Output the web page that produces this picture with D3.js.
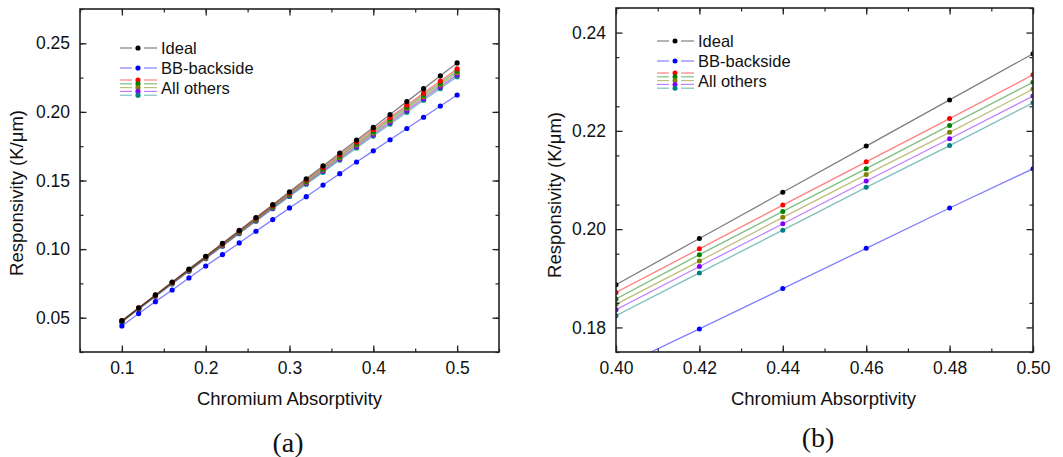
<!DOCTYPE html>
<html>
<head>
<meta charset="utf-8">
<script src="https://cdn.jsdelivr.net/npm/d3@7/dist/d3.min.js"></script>
<style>
  body { margin: 0; background: #fff; }
  svg { display: block; font-family: "Liberation Sans", Arial, sans-serif; }
</style>
</head>
<body>
<div id="chart"></div>
<script>
// absorptivity values (x)
const absorptivity = [0.10, 0.12, 0.14, 0.16, 0.18, 0.20, 0.22, 0.24, 0.26, 0.28, 0.30,
    0.32, 0.34, 0.36, 0.38, 0.40, 0.42, 0.44, 0.46, 0.48, 0.50]

// responsivity (K/um) per series
const ideal = [0.0478, 0.0572, 0.0666, 0.0760, 0.0854, 0.0948, 0.1042, 0.1136, 0.1230, 0.1324, 0.1418,
    0.1512, 0.1606, 0.1700, 0.1794, 0.1887, 0.1981, 0.2075, 0.2169, 0.2263, 0.2357]
const bbBackside = [0.0440, 0.0530, 0.0617, 0.0702, 0.0790, 0.0877, 0.0960, 0.1045, 0.1130, 0.1215, 0.1300,
    0.1382, 0.1467, 0.1550, 0.1635, 0.1716, 0.1797, 0.1879, 0.1961, 0.2043, 0.2123]
const otherRed = [0.0477, 0.0571, 0.0664, 0.0758, 0.0851, 0.0945, 0.1038, 0.1131, 0.1224, 0.1317, 0.1410,
    0.1503, 0.1595, 0.1688, 0.1780, 0.1871, 0.1960, 0.2049, 0.2137, 0.2225, 0.2314]
const otherGreen = [0.0475, 0.0568, 0.0661, 0.0754, 0.0847, 0.0940, 0.1033, 0.1125, 0.1218, 0.1310, 0.1402,
    0.1494, 0.1585, 0.1677, 0.1768, 0.1858, 0.1948, 0.2036, 0.2123, 0.2211, 0.2299]
const otherOlive = [0.0473, 0.0566, 0.0659, 0.0751, 0.0844, 0.0936, 0.1029, 0.1121, 0.1213, 0.1305, 0.1396,
    0.1487, 0.1577, 0.1668, 0.1758, 0.1847, 0.1935, 0.2024, 0.2111, 0.2197, 0.2285]
const otherPurple = [0.0471, 0.0564, 0.0657, 0.0749, 0.0841, 0.0933, 0.1025, 0.1117, 0.1208, 0.1299, 0.1390,
    0.1480, 0.1570, 0.1659, 0.1748, 0.1836, 0.1924, 0.2011, 0.2098, 0.2184, 0.2271]
const otherTeal = [0.0469, 0.0562, 0.0654, 0.0746, 0.0838, 0.0930, 0.1021, 0.1112, 0.1203, 0.1294, 0.1384,
    0.1473, 0.1561, 0.1649, 0.1737, 0.1824, 0.1911, 0.1998, 0.2085, 0.2170, 0.2257]

const legendLabels = ['Ideal', 'BB-backside', 'All others']

// tick values for both panels
const xTicksA = [0.1, 0.2, 0.3, 0.4, 0.5]
const yTicksA = [0.05, 0.10, 0.15, 0.20, 0.25]
const xTicksB = [0.40, 0.42, 0.44, 0.46, 0.48, 0.50]
const yTicksB = [0.18, 0.20, 0.22, 0.24]

const series = [
    { name: 'teal', values: otherTeal, color: '#008080' },
    { name: 'purple', values: otherPurple, color: '#8000ff' },
    { name: 'olive', values: otherOlive, color: '#808000' },
    { name: 'green', values: otherGreen, color: '#008000' },
    { name: 'red', values: otherRed, color: '#ff0000' },
    { name: 'bb', values: bbBackside, color: '#0000ff' },
    { name: 'ideal', values: ideal, color: '#000000' }
]
const others = series.slice(0, 5).reverse()

const W = 1063, H = 457

const svg = d3.select('#chart')
    .append('svg')
    .attr('width', W)
    .attr('height', H)

svg.append('rect').attr('width', W).attr('height', H).attr('fill', '#fff')

function drawPanel(cfg) {
    const g = svg.append('g')
    const x = d3.scaleLinear().domain(cfg.xDomain).range([cfg.left, cfg.right])
    const y = d3.scaleLinear().domain(cfg.yDomain).range([cfg.bottom, cfg.top])
    const innerW = cfg.right - cfg.left, innerH = cfg.bottom - cfg.top

    const clipId = 'clip-' + cfg.id
    svg.append('clipPath').attr('id', clipId)
        .append('rect')
        .attr('x', cfg.left).attr('y', cfg.top)
        .attr('width', innerW).attr('height', innerH)

    // lines + markers
    const plot = g.append('g').attr('clip-path', `url(#${clipId})`)
    const line = d3.line()
        .x((d, i) => x(absorptivity[i]))
        .y(d => y(d))
    series.forEach(s => {
        plot.append('path')
            .datum(s.values)
            .attr('fill', 'none')
            .attr('stroke', s.color)
            .attr('stroke-opacity', 0.5)
            .attr('stroke-width', 1.3)
            .attr('d', line)
    })
    series.forEach(s => {
        plot.selectAll('circle.' + s.name)
            .data(s.values)
            .enter().append('circle')
            .attr('class', s.name)
            .attr('cx', (d, i) => x(absorptivity[i]))
            .attr('cy', d => y(d))
            .attr('r', cfg.r)
            .attr('fill', s.color)
    })

    // axes: ticks inward on all four sides
    const minorX = d3.range(cfg.xDomain[0], cfg.xDomain[1] + 1e-9, cfg.xMinor)
    const minorY = d3.range(cfg.yDomain[0], cfg.yDomain[1] + 1e-9, cfg.yMinor)
    const axes = [
        { ax: d3.axisBottom(x), tr: `translate(0,${cfg.bottom})`, major: cfg.xTicks, minor: minorX, fmt: cfg.xFmt, labels: true },
        { ax: d3.axisTop(x), tr: `translate(0,${cfg.top})`, major: cfg.xTicks, minor: minorX, fmt: cfg.xFmt, labels: false },
        { ax: d3.axisLeft(y), tr: `translate(${cfg.left},0)`, major: cfg.yTicks, minor: minorY, fmt: cfg.yFmt, labels: true },
        { ax: d3.axisRight(y), tr: `translate(${cfg.right},0)`, major: cfg.yTicks, minor: minorY, fmt: cfg.yFmt, labels: false }
    ]
    axes.forEach(a => {
        // minor ticks
        g.append('g')
            .attr('transform', a.tr)
            .call(a.ax.tickValues(a.minor).tickSize(-3.5).tickFormat(''))
            .call(s => s.select('.domain').remove())
            .selectAll('line').attr('stroke', '#222').attr('stroke-width', 1.2)
        // major ticks
        const ag = g.append('g')
            .attr('transform', a.tr)
            .call(a.ax.tickValues(a.major).tickSize(-6.5).tickPadding(10)
                .tickFormat(a.labels ? d3.format(a.fmt) : ''))
        ag.select('.domain').remove()
        ag.selectAll('line').attr('stroke', '#222').attr('stroke-width', 1.3)
        ag.selectAll('text')
            .attr('fill', '#111')
            .style('font-size', '17.5px')
            .style('font-family', '"Liberation Sans", Arial, sans-serif')
    })

    // frame
    g.append('rect')
        .attr('x', cfg.left).attr('y', cfg.top)
        .attr('width', innerW).attr('height', innerH)
        .attr('fill', 'none')
        .attr('stroke', '#222')
        .attr('stroke-width', 1.6)

    // axis titles
    g.append('text')
        .attr('x', (cfg.left + cfg.right) / 2 + cfg.xLabelShift)
        .attr('y', 405)
        .attr('text-anchor', 'middle')
        .attr('fill', '#111')
        .style('font-size', '18.5px')
        .text('Chromium Absorptivity')
    g.append('text')
        .attr('transform', `translate(${cfg.yLabelX},${cfg.yLabelY}) rotate(-90)`)
        .attr('text-anchor', 'middle')
        .attr('fill', '#111')
        .style('font-size', '18.5px')
        .text('Responsivity (K/μm)')

    // panel caption
    g.append('text')
        .attr('x', cfg.capX)
        .attr('y', cfg.capY)
        .attr('text-anchor', 'middle')
        .attr('fill', '#111')
        .style('font-family', '"Liberation Serif", "Times New Roman", serif')
        .style('font-size', '28px')
        .text(cfg.caption)

    // legend
    const lg = g.append('g').attr('transform', `translate(${cfg.legX},${cfg.legY})`)
    const legendRow = (yy, color) => {
        lg.append('line').attr('x1', 0).attr('x2', 12).attr('y1', yy).attr('y2', yy)
            .attr('stroke', color).attr('stroke-opacity', 0.5).attr('stroke-width', 1.2)
        lg.append('line').attr('x1', 24).attr('x2', 37).attr('y1', yy).attr('y2', yy)
            .attr('stroke', color).attr('stroke-opacity', 0.5).attr('stroke-width', 1.2)
        lg.append('circle').attr('cx', 18).attr('cy', yy).attr('r', cfg.r).attr('fill', color)
    }
    legendRow(0, '#000000')
    legendRow(20, '#0000ff')
    others.forEach((s, i) => legendRow(32 + i * 3.8, s.color))
    const textRows = [0, 20, 40.5]
    legendLabels.forEach((t, i) => {
        lg.append('text')
            .attr('x', 41)
            .attr('y', textRows[i])
            .attr('dy', '0.35em')
            .attr('fill', '#111')
            .style('font-size', '16.5px')
            .text(t)
    })
}

drawPanel({
    id: 'a', left: 80, right: 499, top: 9, bottom: 352,
    xDomain: [0.05, 0.55], yDomain: [0.025, 0.275],
    xTicks: xTicksA, yTicks: yTicksA, xMinor: 0.05, yMinor: 0.025,
    xFmt: '.1f', yFmt: '.2f', r: 2.6,
    xLabelShift: 0, yLabelX: 23, yLabelY: 193,
    capX: 288, capY: 452, caption: '(a)',
    legX: 120, legY: 48
})

drawPanel({
    id: 'b', left: 616, right: 1033, top: 8, bottom: 352,
    xDomain: [0.40, 0.50], yDomain: [0.175, 0.245],
    xTicks: xTicksB, yTicks: yTicksB, xMinor: 0.01, yMinor: 0.01,
    xFmt: '.2f', yFmt: '.2f', r: 2.5,
    xLabelShift: -1, yLabelX: 561, yLabelY: 195,
    capX: 818, capY: 447, caption: '(b)',
    legX: 657, legY: 41
})
</script>
</body>
</html>
